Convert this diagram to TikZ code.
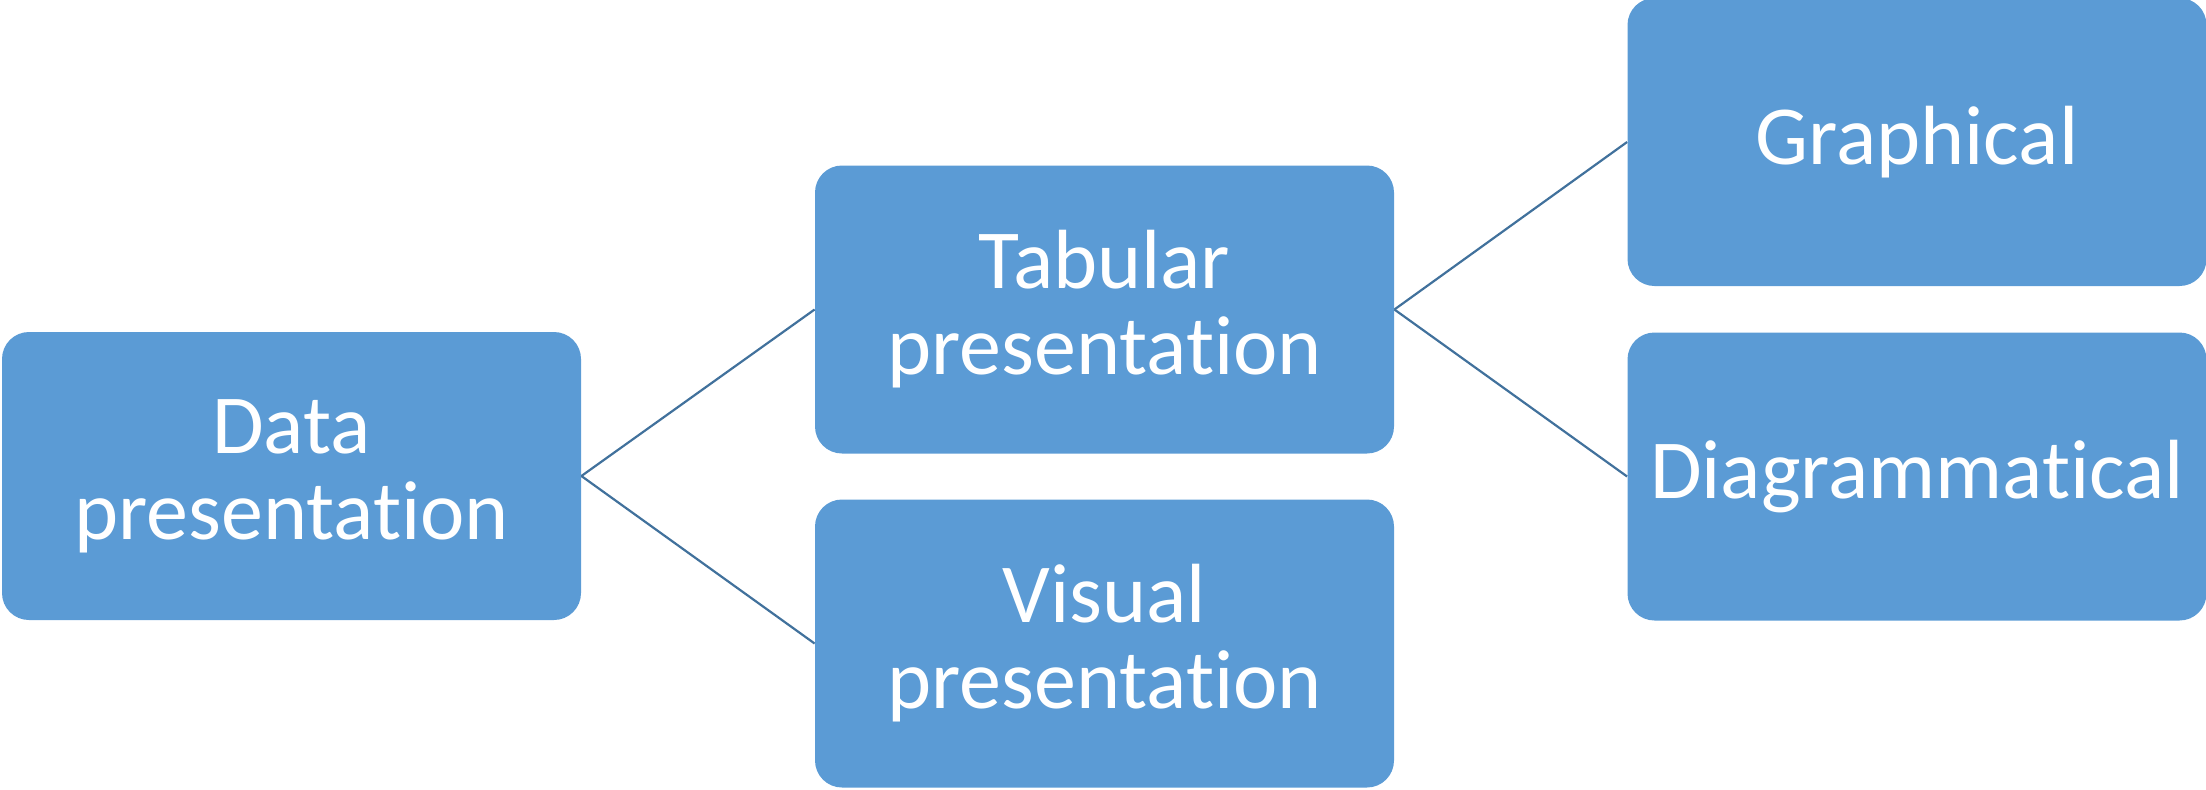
\documentclass[tikz,border=0pt]{standalone}
\usepackage{fontspec}
\setmainfont{Carlito}[Ligatures={NoCommon,NoRare,NoContextual}]
\definecolor{boxfill}{HTML}{5B9BD5}
\definecolor{linkcol}{HTML}{41719C}
\begin{document}
\begin{tikzpicture}[x=0.5pt,y=-0.5pt,
  topic/.style={rectangle, rounded corners=13.5pt, fill=boxfill,
    minimum width=289.5pt, minimum height=144pt, inner sep=0pt, align=center,
    text=white, font=\fontsize{42}{43}\selectfont},
  link/.style={draw=linkcol, line width=1.1pt}]
\useasboundingbox (0,0) rectangle (2206,789);
\node[topic] (data) at (291.5,476) {Data\\presentation};
\node[topic] (tab) at (1104.5,309.5) {Tabular\\presentation};
\node[topic] (vis) at (1104.5,643.5) {Visual\\presentation};
\node[topic] (gra) at (1917,142) {Graphical};
\node[topic] (dia) at (1917,476.5) {Diagrammatical};
\draw[link] (data.east) -- (tab.west);
\draw[link] (data.east) -- (vis.west);
\draw[link] (tab.east) -- (gra.west);
\draw[link] (tab.east) -- (dia.west);
\end{tikzpicture}
\end{document}
